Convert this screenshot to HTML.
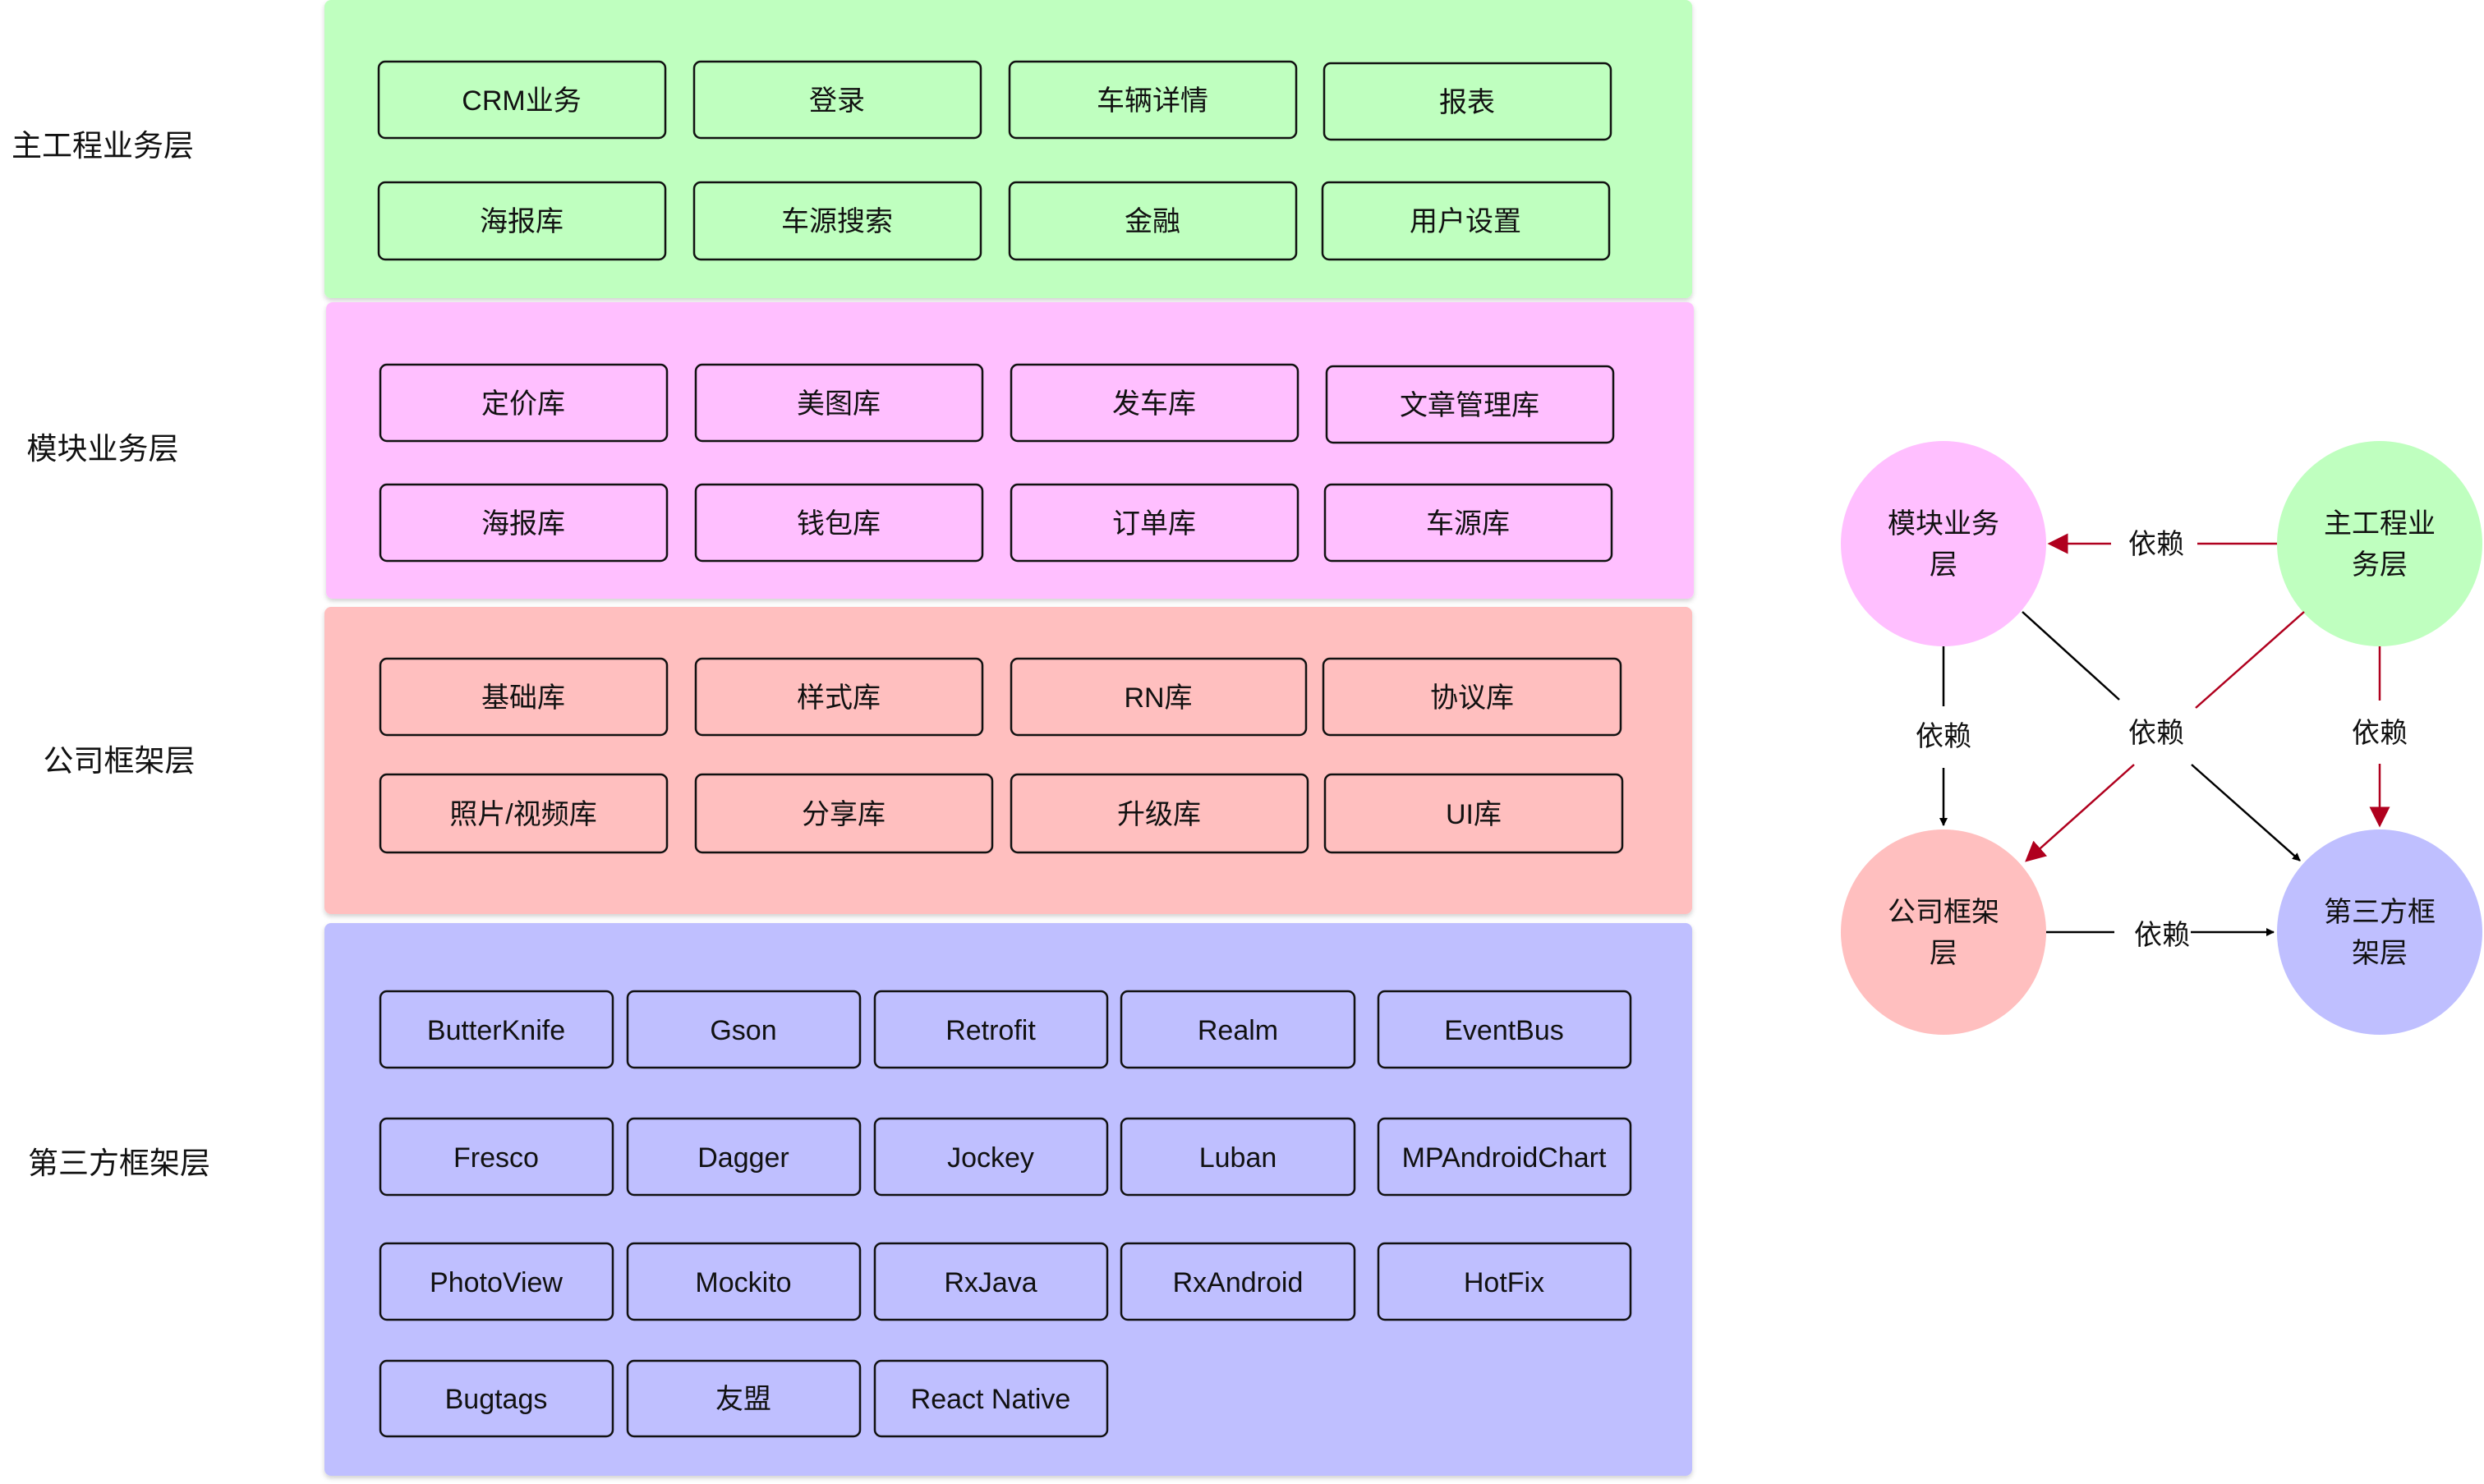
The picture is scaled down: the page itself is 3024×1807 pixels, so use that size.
<!DOCTYPE html>
<html><head><meta charset="utf-8"><style>
html,body{margin:0;padding:0;background:#fff;}
svg{display:block;}
text{font-family:"Liberation Sans","Noto Sans CJK SC",sans-serif;fill:#111;}
</style></head><body>
<svg width="3024" height="1807" viewBox="0 0 3024 1807" xmlns="http://www.w3.org/2000/svg">
<defs>
<marker id="ab" markerWidth="10" markerHeight="10" refX="9" refY="5" orient="auto" markerUnits="userSpaceOnUse" viewBox="0 0 10 10"><path d="M0,0 L10,5 L0,10 z" fill="#000"/></marker>
<marker id="ar" markerWidth="10" markerHeight="10" refX="9" refY="5" orient="auto" viewBox="0 0 10 10"><path d="M0,0 L10,5 L0,10 z" fill="#b0001e"/></marker>
<filter id="sh"><feDropShadow dx="0" dy="3" stdDeviation="3" flood-color="#000" flood-opacity="0.18"/></filter>
</defs>
<!-- panels -->
<rect x="395" y="0" width="1665" height="363" rx="8" fill="#bfffbf" filter="url(#sh)"/>
<rect x="397" y="368" width="1665" height="361" rx="8" fill="#ffbfff" filter="url(#sh)"/>
<rect x="395" y="739" width="1665" height="374" rx="8" fill="#ffbfbf" filter="url(#sh)"/>
<rect x="395" y="1124" width="1665" height="673" rx="8" fill="#bfbfff" filter="url(#sh)"/>
<!-- left labels -->
<g font-size="37" text-anchor="middle">
<text x="125" y="190">主工程业务层</text>
<text x="125" y="559">模块业务层</text>
<text x="145" y="939">公司框架层</text>
<text x="145" y="1429">第三方框架层</text>
</g>
<g fill="none" stroke="#111" stroke-width="2.5" font-size="34">
<!-- green -->
<rect x="461" y="75" width="349" height="93" rx="8"/>
<rect x="845" y="75" width="349" height="93" rx="8"/>
<rect x="1229" y="75" width="349" height="93" rx="8"/>
<rect x="1612" y="77" width="349" height="93" rx="8"/>
<rect x="461" y="222" width="349" height="94" rx="8"/>
<rect x="845" y="222" width="349" height="94" rx="8"/>
<rect x="1229" y="222" width="349" height="94" rx="8"/>
<rect x="1610" y="222" width="349" height="94" rx="8"/>
<!-- pink -->
<rect x="463" y="444" width="349" height="93" rx="8"/>
<rect x="847" y="444" width="349" height="93" rx="8"/>
<rect x="1231" y="444" width="349" height="93" rx="8"/>
<rect x="1615" y="446" width="349" height="93" rx="8"/>
<rect x="463" y="590" width="349" height="93" rx="8"/>
<rect x="847" y="590" width="349" height="93" rx="8"/>
<rect x="1231" y="590" width="349" height="93" rx="8"/>
<rect x="1613" y="590" width="349" height="93" rx="8"/>
<!-- salmon -->
<rect x="463" y="802" width="349" height="93" rx="8"/>
<rect x="847" y="802" width="349" height="93" rx="8"/>
<rect x="1231" y="802" width="359" height="93" rx="8"/>
<rect x="1611" y="802" width="362" height="93" rx="8"/>
<rect x="463" y="943" width="349" height="95" rx="8"/>
<rect x="847" y="943" width="361" height="95" rx="8"/>
<rect x="1231" y="943" width="361" height="95" rx="8"/>
<rect x="1613" y="943" width="362" height="95" rx="8"/>
<!-- blue -->
<rect x="463" y="1207" width="283" height="93" rx="8"/>
<rect x="764" y="1207" width="283" height="93" rx="8"/>
<rect x="1065" y="1207" width="283" height="93" rx="8"/>
<rect x="1365" y="1207" width="284" height="93" rx="8"/>
<rect x="1678" y="1207" width="307" height="93" rx="8"/>
<rect x="463" y="1362" width="283" height="93" rx="8"/>
<rect x="764" y="1362" width="283" height="93" rx="8"/>
<rect x="1065" y="1362" width="283" height="93" rx="8"/>
<rect x="1365" y="1362" width="284" height="93" rx="8"/>
<rect x="1678" y="1362" width="307" height="93" rx="8"/>
<rect x="463" y="1514" width="283" height="93" rx="8"/>
<rect x="764" y="1514" width="283" height="93" rx="8"/>
<rect x="1065" y="1514" width="283" height="93" rx="8"/>
<rect x="1365" y="1514" width="284" height="93" rx="8"/>
<rect x="1678" y="1514" width="307" height="93" rx="8"/>
<rect x="463" y="1657" width="283" height="92" rx="8"/>
<rect x="764" y="1657" width="283" height="92" rx="8"/>
<rect x="1065" y="1657" width="283" height="92" rx="8"/>
</g>
<g font-size="34" text-anchor="middle">
<text x="635" y="134">CRM业务</text><text x="1019" y="134">登录</text><text x="1403" y="134">车辆详情</text><text x="1786" y="136">报表</text>
<text x="635" y="281">海报库</text><text x="1019" y="281">车源搜索</text><text x="1403" y="281">金融</text><text x="1784" y="281">用户设置</text>
<text x="637" y="503">定价库</text><text x="1021" y="503">美图库</text><text x="1405" y="503">发车库</text><text x="1789" y="505">文章管理库</text>
<text x="637" y="649">海报库</text><text x="1021" y="649">钱包库</text><text x="1405" y="649">订单库</text><text x="1787" y="649">车源库</text>
<text x="637" y="861">基础库</text><text x="1021" y="861">样式库</text><text x="1410" y="861">RN库</text><text x="1792" y="861">协议库</text>
<text x="637" y="1003">照片/视频库</text><text x="1027" y="1003">分享库</text><text x="1411" y="1003">升级库</text><text x="1794" y="1003">UI库</text>
<text x="604" y="1266">ButterKnife</text><text x="905" y="1266">Gson</text><text x="1206" y="1266">Retrofit</text><text x="1507" y="1266">Realm</text><text x="1831" y="1266">EventBus</text>
<text x="604" y="1421">Fresco</text><text x="905" y="1421">Dagger</text><text x="1206" y="1421">Jockey</text><text x="1507" y="1421">Luban</text><text x="1831" y="1421">MPAndroidChart</text>
<text x="604" y="1573">PhotoView</text><text x="905" y="1573">Mockito</text><text x="1206" y="1573">RxJava</text><text x="1507" y="1573">RxAndroid</text><text x="1831" y="1573">HotFix</text>
<text x="604" y="1715">Bugtags</text><text x="905" y="1715">友盟</text><text x="1206" y="1715">React Native</text>
</g>
<!-- right diagram -->
<circle cx="2366" cy="662" r="125" fill="#ffbfff"/>
<circle cx="2897" cy="662" r="125" fill="#bfffbf"/>
<circle cx="2366" cy="1135" r="125" fill="#ffbfbf"/>
<circle cx="2897" cy="1135" r="125" fill="#bfbfff"/>
<g font-size="34" text-anchor="middle">
<text x="2366" y="649">模块业务</text><text x="2366" y="699">层</text>
<text x="2897" y="649">主工程业</text><text x="2897" y="699">务层</text>
<text x="2366" y="1122">公司框架</text><text x="2366" y="1172">层</text>
<text x="2897" y="1122">第三方框</text><text x="2897" y="1172">架层</text>
</g>
<g stroke-width="2.5" fill="none">
<line x1="2772" y1="662" x2="2675" y2="662" stroke="#b0001e"/>
<line x1="2570" y1="662" x2="2495" y2="662" stroke="#b0001e" marker-end="url(#ar)"/>
<line x1="2366" y1="787" x2="2366" y2="860" stroke="#000"/>
<line x1="2366" y1="935" x2="2366" y2="1005" stroke="#000" marker-end="url(#ab)"/>
<line x1="2897" y1="787" x2="2897" y2="853" stroke="#b0001e"/>
<line x1="2897" y1="930" x2="2897" y2="1005" stroke="#b0001e" marker-end="url(#ar)"/>
<line x1="2491" y1="1135" x2="2574" y2="1135" stroke="#000"/>
<line x1="2667" y1="1135" x2="2768" y2="1135" stroke="#000" marker-end="url(#ab)"/>
<line x1="2462" y1="745" x2="2580" y2="852" stroke="#000"/>
<line x1="2668" y1="931" x2="2800" y2="1048" stroke="#000" marker-end="url(#ab)"/>
<line x1="2805" y1="745" x2="2673" y2="862" stroke="#b0001e"/>
<line x1="2598" y1="931" x2="2467" y2="1048" stroke="#b0001e" marker-end="url(#ar)"/>
</g>
<g font-size="34" text-anchor="middle">
<text x="2625" y="674">依赖</text>
<text x="2366" y="908">依赖</text>
<text x="2625" y="904">依赖</text>
<text x="2897" y="904">依赖</text>
<text x="2632" y="1150">依赖</text>
</g>
</svg>
</body></html>
